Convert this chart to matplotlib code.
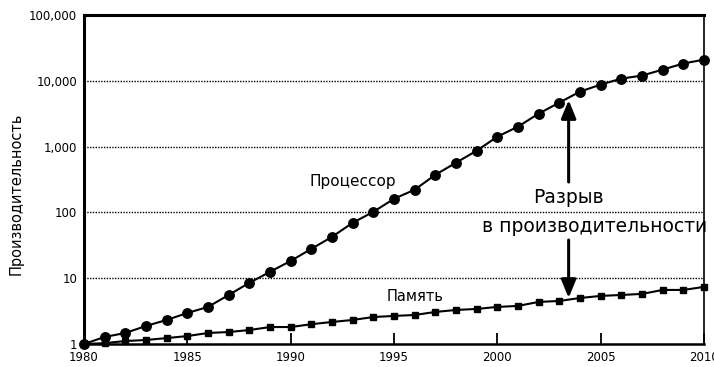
import matplotlib
matplotlib.use("Agg")
import matplotlib.pyplot as plt

years = list(range(1980, 2011))
processor = [1, 1.28, 1.47, 1.88, 2.32, 2.96, 3.66, 5.56, 8.5, 12.5, 18.3, 27.9, 42.5,
             69.5, 102, 161, 221, 373, 569, 866, 1415, 2010, 3170, 4660, 6850, 8750,
             10800, 12000, 14800, 18300, 21000]
memory = [1, 1.03, 1.11, 1.15, 1.23, 1.32, 1.47, 1.52, 1.63, 1.81, 1.81, 2.0, 2.16,
          2.32, 2.57, 2.67, 2.76, 3.07, 3.29, 3.41, 3.66, 3.79, 4.36, 4.51, 5.0, 5.38,
          5.56, 5.77, 6.63, 6.63, 7.37]
ytick_vals = [1, 10, 100, 1000, 10000, 100000]
ytick_labels = ["1", "10", "100", "1,000", "10,000", "100,000"]
xtick_vals = [1980, 1985, 1990, 1995, 2000, 2005, 2010]
gap_year = 2003.45

plt.rcParams['font.family'] = ['DejaVu Sans']

fig = plt.figure(figsize=(7.14, 3.67), dpi=100)
ax = fig.add_axes([84/714, 1-344/367, (704-84)/714, (344-15)/367])
ax.set_yscale('log')
ax.set_xlim(1980, 2010)
ax.set_ylim(1, 100000)

for v in ytick_vals[1:-1]:
    ax.axhline(v, color='black', lw=1.0, ls=(0, (1, 1)), zorder=1)

ax.plot(years, processor, color='black', lw=1.5, marker='o', ms=6.8, clip_on=False, zorder=3)
ax.plot(years, memory, color='black', lw=1.5, marker='s', ms=5, clip_on=False, zorder=3)

ax.set_yticks(ytick_vals)
ax.set_yticklabels(ytick_labels)
ax.minorticks_off()
ax.tick_params(axis='y', length=0, pad=5, labelsize=8.5)
ax.set_xticks(xtick_vals)
ax.set_xticklabels([str(v) for v in xtick_vals])
ax.tick_params(axis='x', direction='in', length=8, width=1.3, pad=5, labelsize=8.5)

for s in ['left', 'top']:
    ax.spines[s].set_linewidth(2.2)
ax.spines['bottom'].set_linewidth(1.8)
ax.spines['right'].set_linewidth(1.2)

fig.text(16/714, 1-194/367, "Производительность", rotation=90, ha='center', va='center', fontsize=10.5)

ax.text(1993.0, 300, "Процессор", ha='center', va='center', fontsize=11)
ax.text(1996.0, 5.2, "Память", ha='center', va='center', fontsize=10.5)
ax.text(gap_year, 166, "Разрыв", ha='center', va='center', fontsize=13.5)
ax.text(2004.7, 62, "в производительности", ha='center', va='center', fontsize=13.5)

ax.annotate("", xy=(gap_year, 5100), xytext=(gap_year, 290),
            arrowprops=dict(arrowstyle='-|>,head_width=0.45,head_length=1.1', color='black', lw=2.2, shrinkA=0, shrinkB=0))
ax.annotate("", xy=(gap_year, 5.0), xytext=(gap_year, 38),
            arrowprops=dict(arrowstyle='-|>,head_width=0.45,head_length=1.1', color='black', lw=2.2, shrinkA=0, shrinkB=0))

fig.savefig("out.png", dpi=100)
